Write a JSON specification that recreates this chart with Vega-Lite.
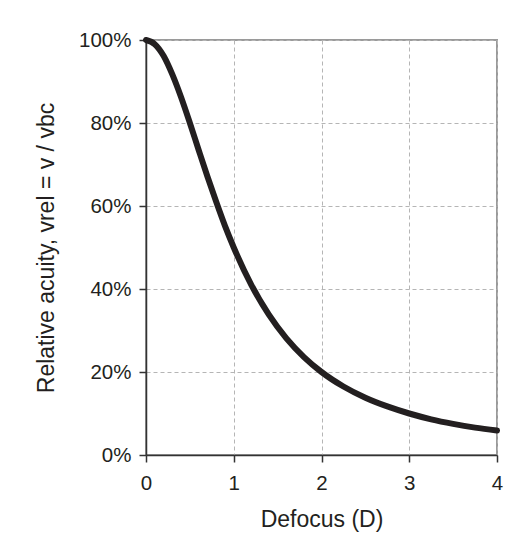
{
  "$schema": "https://vega.github.io/schema/vega-lite/v6.json",
  "autosize": "none",
  "padding": {"left": 146, "top": 40, "right": 17, "bottom": 96},
  "width": 351,
  "height": 415,
  "background": "white",
  "config": {
    "font": "Liberation Sans",
    "view": {"stroke": "#9a9a9a", "strokeWidth": 2},
    "axis": {
      "domainColor": "#333333",
      "domainWidth": 1.5,
      "tickColor": "#333333",
      "tickWidth": 1.5,
      "tickSize": 7,
      "labelFlush": false,
      "labelFont": "Liberation Sans",
      "labelFontSize": 20.5,
      "labelColor": "#231f20",
      "titleFont": "Liberation Sans",
      "titleFontSize": 23,
      "titleFontWeight": "normal",
      "titleColor": "#231f20",
      "gridColor": "#b5b5b5",
      "gridDash": [4, 3],
      "gridWidth": 1
    }
  },
  "data": {
    "values": [
      {"defocus": 0.0, "acuity": 1.0},
      {"defocus": 0.1, "acuity": 0.99},
      {"defocus": 0.2, "acuity": 0.962},
      {"defocus": 0.3, "acuity": 0.917},
      {"defocus": 0.4, "acuity": 0.862},
      {"defocus": 0.5, "acuity": 0.8},
      {"defocus": 0.6, "acuity": 0.735},
      {"defocus": 0.7, "acuity": 0.671},
      {"defocus": 0.8, "acuity": 0.61},
      {"defocus": 0.9, "acuity": 0.552},
      {"defocus": 1.0, "acuity": 0.5},
      {"defocus": 1.2, "acuity": 0.41},
      {"defocus": 1.4, "acuity": 0.338},
      {"defocus": 1.6, "acuity": 0.281},
      {"defocus": 1.8, "acuity": 0.236},
      {"defocus": 2.0, "acuity": 0.2},
      {"defocus": 2.25, "acuity": 0.165},
      {"defocus": 2.5, "acuity": 0.138},
      {"defocus": 2.75, "acuity": 0.117},
      {"defocus": 3.0, "acuity": 0.1},
      {"defocus": 3.25, "acuity": 0.086},
      {"defocus": 3.5, "acuity": 0.075},
      {"defocus": 3.75, "acuity": 0.066},
      {"defocus": 4.0, "acuity": 0.059}
    ]
  },
  "mark": {"type": "line", "color": "#231f20", "strokeWidth": 6, "interpolate": "monotone", "strokeCap": "round", "clip": false},
  "encoding": {
    "x": {
      "field": "defocus",
      "type": "quantitative",
      "scale": {"domain": [0, 4], "nice": false},
      "axis": {"values": [0, 1, 2, 3, 4], "format": "d", "title": "Defocus (D)", "labelPadding": 11, "titlePadding": 15}
    },
    "y": {
      "field": "acuity",
      "type": "quantitative",
      "scale": {"domain": [0, 1], "nice": false},
      "axis": {"values": [0, 0.2, 0.4, 0.6, 0.8, 1], "format": ".0%", "title": "Relative acuity, vrel = v / vbc", "labelPadding": 8, "titlePadding": 20}
    }
  }
}
